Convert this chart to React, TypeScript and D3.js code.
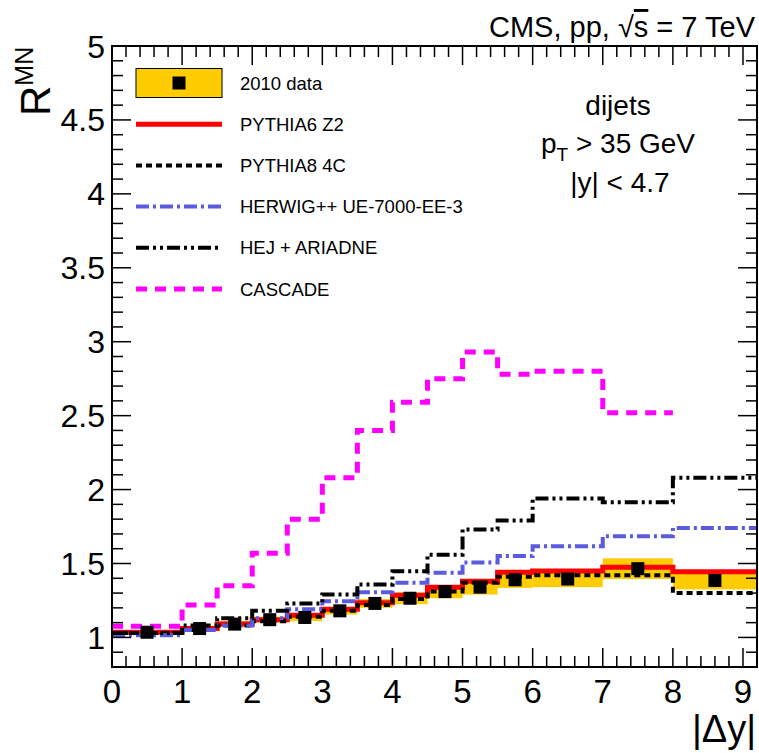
import * as React from "react";
import { scaleLinear, line as d3Line, curveStepAfter, range } from "d3";

// bin edges in |delta y|
const binEdges = [0, 1, 1.5, 2, 2.5, 3, 3.5, 4, 4.5, 5, 5.5, 6, 7, 8, 9.2];

// 2010 data, R^MN per bin, with systematic half-width
const dataValues = [1.035, 1.06, 1.09, 1.12, 1.135, 1.18, 1.23, 1.265, 1.31, 1.34, 1.39, 1.395, 1.465, 1.385];
const dataSys = [0.015, 0.015, 0.02, 0.02, 0.025, 0.025, 0.03, 0.04, 0.045, 0.05, 0.055, 0.055, 0.07, 0.06];

// models
const pythia6 = [1.035, 1.06, 1.09, 1.12, 1.15, 1.19, 1.235, 1.285, 1.34, 1.38, 1.44, 1.45, 1.475, 1.445];
const pythia8 = [1.03, 1.05, 1.08, 1.11, 1.14, 1.18, 1.22, 1.26, 1.31, 1.37, 1.41, 1.42, 1.42, 1.3];
const herwig = [1.015, 1.05, 1.08, 1.13, 1.19, 1.245, 1.306, 1.37, 1.437, 1.506, 1.55, 1.617, 1.685, 1.74];
const hej = [1.03, 1.08, 1.13, 1.18, 1.23, 1.29, 1.358, 1.448, 1.56, 1.73, 1.79, 1.94, 1.915, 2.08];
const cascade = [1.075, 1.22, 1.35, 1.57, 1.8, 2.08, 2.4, 2.59, 2.75, 2.93, 2.78, 2.8, 2.52]; // up to 8

const xTicks = [0, 1, 2, 3, 4, 5, 6, 7, 8, 9];
const yTicks = [1, 1.5, 2, 2.5, 3, 3.5, 4, 4.5, 5];

const legendLabels = ["2010 data", "PYTHIA6 Z2", "PYTHIA8 4C", "HERWIG++ UE-7000-EE-3", "HEJ + ARIADNE", "CASCADE"];

const W = 759;
const H = 753;
const frame = { left: 112, right: 757, top: 46, bottom: 667 };
const font = "'Liberation Sans', Arial, Helvetica, sans-serif";

const models = [
  { values: pythia6, color: "#ff0000", width: 5, dash: "none" },
  { values: pythia8, color: "#000000", width: 4, dash: "6,4" },
  { values: herwig, color: "#5b5be0", width: 4, dash: "13,4,3,4" },
  { values: hej, color: "#000000", width: 4, dash: "13,4,3,4,3,4" },
  { values: cascade, color: "#ff00ff", width: 5, dash: "11,8" },
];

const App = () => {
  const x = scaleLinear().domain([0, 9.2]).range([frame.left, frame.right]);
  const y = scaleLinear().domain([0.8, 5]).range([frame.bottom, frame.top]);

  const stepPath = (vals: number[]) => {
    const pts: [number, number][] = vals.map((v, i) => [binEdges[i], v]);
    pts.push([binEdges[vals.length], vals[vals.length - 1]]);
    return d3Line<[number, number]>()
      .x(d => x(d[0]))
      .y(d => y(d[1]))
      .curve(curveStepAfter)(pts) as string;
  };

  const xMinor = range(0, 9.2001, 0.2);
  const yMinor = range(0.8, 5.0001, 0.1);
  const major = 19;
  const minor = 11;

  const legX0 = 136;
  const legX1 = 222;
  const legRow = (i: number) => 83 + i * 41.2;

  return (
    <svg width={W} height={H} style={{ position: "absolute", left: 0, top: 0, background: "#fff" }}>
      <defs>
        <clipPath id="plotclip">
          <rect x={frame.left} y={frame.top} width={frame.right - frame.left} height={frame.bottom - frame.top} />
        </clipPath>
      </defs>

      <g clipPath="url(#plotclip)">
        {/* systematic band */}
        {dataValues.map((v, i) => (
          <rect
            key={"b" + i}
            x={x(binEdges[i])}
            width={x(binEdges[i + 1]) - x(binEdges[i])}
            y={y(v + dataSys[i])}
            height={y(v - dataSys[i]) - y(v + dataSys[i])}
            fill="#ffcc00"
          />
        ))}
        {models.map((m, i) => (
          <path
            key={"m" + i}
            d={stepPath(m.values)}
            fill="none"
            stroke={m.color}
            strokeWidth={m.width}
            strokeDasharray={m.dash}
          />
        ))}
        {dataValues.map((v, i) => {
          const cx = x((binEdges[i] + binEdges[i + 1]) / 2);
          return <rect key={"p" + i} x={cx - 6.5} y={y(v) - 6.5} width={13} height={13} fill="#000" />;
        })}
      </g>

      {/* frame */}
      <rect
        x={frame.left}
        y={frame.top}
        width={frame.right - frame.left}
        height={frame.bottom - frame.top}
        fill="none"
        stroke="#000"
        strokeWidth={2}
      />

      {/* x ticks */}
      {xMinor.map((t, i) => {
        const len = Math.abs(t - Math.round(t)) < 1e-6 ? major : minor;
        return (
          <g key={"xt" + i}>
            <line x1={x(t)} x2={x(t)} y1={frame.bottom} y2={frame.bottom - len} stroke="#000" strokeWidth={1.5} />
            <line x1={x(t)} x2={x(t)} y1={frame.top} y2={frame.top + len} stroke="#000" strokeWidth={1.5} />
          </g>
        );
      })}
      {/* y ticks */}
      {yMinor.map((t, i) => {
        const len = Math.abs(t * 2 - Math.round(t * 2)) < 1e-6 ? major : minor;
        return (
          <g key={"yt" + i}>
            <line x1={frame.left} x2={frame.left + len} y1={y(t)} y2={y(t)} stroke="#000" strokeWidth={1.5} />
            <line x1={frame.right} x2={frame.right - len} y1={y(t)} y2={y(t)} stroke="#000" strokeWidth={1.5} />
          </g>
        );
      })}

      {xTicks.map(t => (
        <text key={"xl" + t} x={x(t)} y={703} textAnchor="middle" fontFamily={font} fontSize={33}>
          {t}
        </text>
      ))}
      {yTicks.map(t => (
        <text key={"yl" + t} x={105} y={y(t)} dy="0.36em" textAnchor="end" fontFamily={font} fontSize={32}>
          {String(t)}
        </text>
      ))}

      {/* axis titles */}
      <text x={756} y={742} textAnchor="end" fontFamily={font} fontSize={38}>
        |Δy|
      </text>
      <text transform="translate(50,116) rotate(-90)" fontFamily={font} fontSize={42}>
        R
        <tspan fontSize={25} dy={-17}>MN</tspan>
      </text>

      {/* header */}
      <text x={755} y={37} textAnchor="end" fontFamily={font} fontSize={29}>
        CMS, pp, √<tspan textDecoration="overline">s</tspan> = 7 TeV
      </text>

      {/* cuts */}
      <g fontFamily={font} fontSize={28} textAnchor="middle">
        <text x={618} y={115}>dijets</text>
        <text x={618} y={153}>
          p<tspan fontSize={19} dy={8}>T</tspan>
          <tspan dy={-8}> &gt; 35 GeV</tspan>
        </text>
        <text x={620} y={192}>|y| &lt; 4.7</text>
      </g>

      {/* legend */}
      <rect x={legX0} y={legRow(0) - 14.5} width={legX1 - legX0} height={29} fill="#ffcc00" stroke="#000" strokeWidth={1} />
      <rect x={(legX0 + legX1) / 2 - 6.5} y={legRow(0) - 6.5} width={13} height={13} fill="#000" />
      {models.map((m, i) => (
        <line
          key={"ll" + i}
          x1={legX0}
          x2={legX1}
          y1={legRow(i + 1)}
          y2={legRow(i + 1)}
          stroke={m.color}
          strokeWidth={m.width}
          strokeDasharray={m.dash}
        />
      ))}
      {legendLabels.map((l, i) => (
        <text key={"lt" + i} x={240} y={legRow(i)} dy="0.36em" fontFamily={font} fontSize={18.5}>
          {l}
        </text>
      ))}
    </svg>
  );
};

export default App;
